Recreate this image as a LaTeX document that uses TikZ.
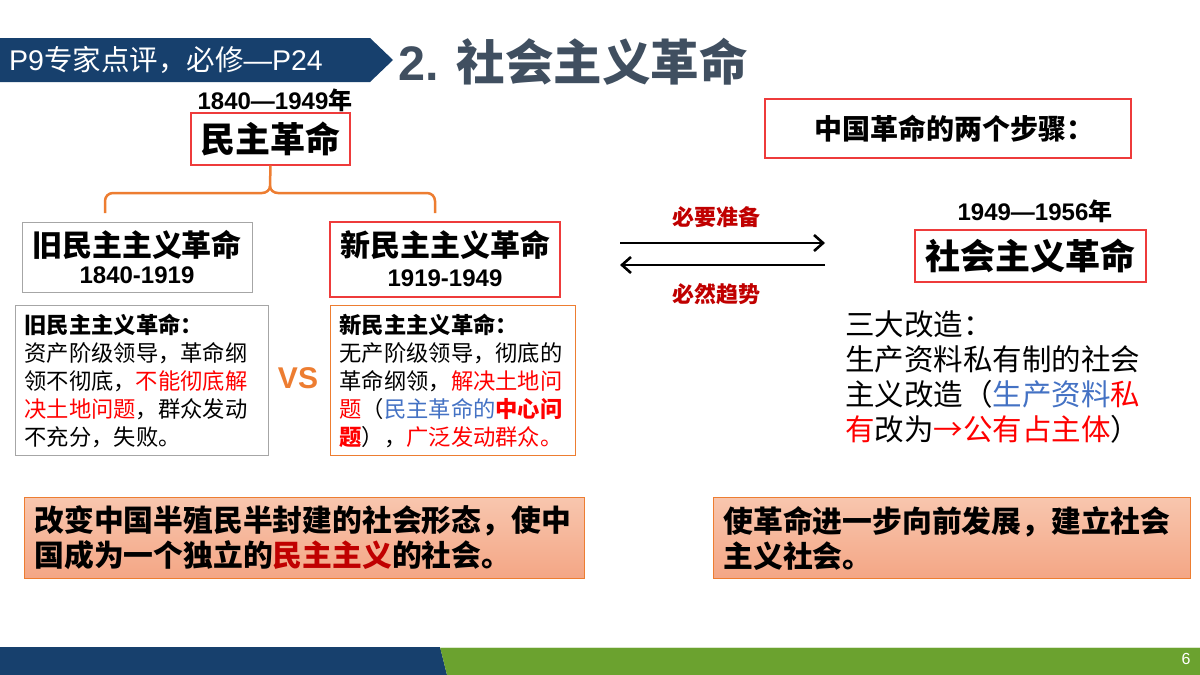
\documentclass[tikz,border=0pt]{standalone}
\usepackage{fontspec}
\setmainfont{Noto Sans CJK SC}
\newfontfamily\lat{Liberation Sans}
\usetikzlibrary{arrows.meta}
\definecolor{navy}{HTML}{17406D}
\definecolor{leaf}{HTML}{6BA22F}
\definecolor{slate}{HTML}{404F60}
\definecolor{boxred}{HTML}{EE3B3B}
\definecolor{boxgray}{HTML}{A6A6A6}
\definecolor{orng}{HTML}{ED7D31}
\definecolor{dred}{HTML}{C00000}
\definecolor{blu}{HTML}{4472C4}
\definecolor{salmtop}{HTML}{F8C6AE}
\definecolor{salmbot}{HTML}{F4A685}
\begin{document}
\begin{tikzpicture}[x=1pt,y=-1pt,
  plain/.style={inner sep=0pt},
  redbox/.style={draw=boxred, line width=1.2pt, inner sep=0pt},
  detail/.style={line width=1pt, inner xsep=9pt, inner ysep=0pt, align=left, anchor=north west,
     font=\fontsize{22.3}{28}\selectfont},
  result/.style={draw=orng, line width=1pt, top color=salmtop, bottom color=salmbot,
     inner xsep=10pt, inner ysep=0pt, align=left, anchor=north west, minimum height=81pt,
     font=\bfseries\fontsize{29.8}{35}\selectfont},
  brace/.style={draw=orng, line width=2.5pt},
  flow/.style={line width=2.6pt, -{Straight Barb[length=9pt,width=16pt]}},
  flowlab/.style={plain, text=dred, font=\bfseries\fontsize{22}{26}\selectfont}]
\useasboundingbox (0,0) rectangle (1200,675);
\fill[white] (0,0) rectangle (1200,675);

% header banner
\fill[navy] (0,38) -- (370,38) -- (393,60) -- (370,82) -- (0,82) -- cycle;
\node[plain, anchor=west, text=white, font=\fontsize{28.5}{32}\selectfont] (banner) at (9,60)
  {{\lat P9}专家点评，必修{\lat —P24}};
\node[plain, anchor=west, text=slate, font=\bfseries\fontsize{48.5}{54}\selectfont] (title) at (398,62)
  {{\lat\bfseries 2. }社会主义革命};

% democratic revolution
\node[plain, font=\bfseries\fontsize{24}{28}\selectfont] (years1) at (275,100) {{\lat\bfseries 1840—1949}年};
\node[redbox, minimum width=159pt, minimum height=52pt, font=\bfseries\fontsize{35}{40}\selectfont] (dem) at (270.5,139) {民主革命};

% brace
\coordinate (bl) at (105,213);
\coordinate (br) at (435,213);
\draw[brace] (dem.south) -- (270,186) to[out=-90,in=0] (262,193) -- (113,193) to[out=180,in=90] (105,201) -- (bl);
\draw[brace] (270,186) to[out=-90,in=180] (278,193) -- (427,193) to[out=0,in=90] (435,201) -- (br);

% old / new
\node[draw=boxgray, line width=1pt, inner sep=0pt, minimum width=230pt, minimum height=70pt] (oldr) at (137,257) {};
\node[plain, font=\bfseries\fontsize{30}{34}\selectfont] (oldt) at (137,245) {旧民主主义革命};
\node[plain, font=\lat\bfseries\fontsize{24}{28}\selectfont] (oldy) at (137,275) {1840-1919};
\node[redbox, minimum width=230pt, minimum height=75pt] (newr) at (445,259.5) {};
\node[plain, font=\bfseries\fontsize{30}{34}\selectfont] (newt) at (445,245) {新民主主义革命};
\node[plain, font=\lat\bfseries\fontsize{24}{28}\selectfont] (newy) at (445,278) {1919-1949};

% detail boxes
\node[detail, draw=boxgray, minimum width=253pt, minimum height=150pt, text width=235pt] (oldd) at (15,305)
  {\textbf{旧民主主义革命：}\\
   资产阶级领导，革命纲\\
   领不彻底，\textcolor{red}{不能彻底解}\\
   \textcolor{red}{决土地问题}，群众发动\\
   不充分，失败。};
\node[detail, draw=orng, minimum width=245pt, minimum height=150pt, text width=227pt] (newd) at (330,305)
  {\textbf{新民主主义革命：}\\
   无产阶级领导，彻底的\\
   革命纲领，\textcolor{red}{解决土地问}\\
   \textcolor{red}{题}（\textcolor{blu}{民主革命的}\textcolor{red}{\textbf{中心问}}\\
   \textcolor{red}{\textbf{题}}），\textcolor{red}{广泛发动群众。}};
\node[plain, text=orng, font=\lat\bfseries\fontsize{30}{34}\selectfont] (vs) at (298,378) {VS};

% arrows
\coordinate (p1) at (620,243);
\coordinate (p2) at (825,243);
\coordinate (q1) at (825,265);
\coordinate (q2) at (620,265);
\draw[flow] (p1) -- (p2);
\draw[flow] (q1) -- (q2);
\node[flowlab] (prep) at (716,217) {必要准备};
\node[flowlab] (trend) at (716,294) {必然趋势};

% socialist revolution
\node[redbox, minimum width=366pt, minimum height=59pt, font=\bfseries\fontsize{28}{32}\selectfont] (steps) at (948,128.5) {\hspace*{12pt}中国革命的两个步骤：};
\node[plain, font=\bfseries\fontsize{24}{28}\selectfont] (years2) at (1035,211) {{\lat\bfseries 1949—1956}年};
\node[redbox, minimum width=231pt, minimum height=52pt, font=\bfseries\fontsize{35}{40}\selectfont] (soc) at (1030.5,256) {社会主义革命};
\node[plain, anchor=west, align=left, text width=330pt, font=\fontsize{29.5}{35}\selectfont] (three) at (845,377)
  {三大改造：\\
   生产资料私有制的社会\\
   主义改造（\textcolor{blu}{生产资料}\textcolor{red}{私}\\
   \textcolor{red}{有}改为\textcolor{red}{→公有占主体}）};

% results
\node[result, minimum width=560pt, text width=540pt] (resL) at (24,497)
  {改变中国半殖民半封建的社会形态，使中\\
   国成为一个独立的\textcolor{dred}{民主主义}的社会。};
\node[result, minimum width=477pt, text width=457pt] (resR) at (713,497)
  {使革命进一步向前发展，建立社会\\
   主义社会。};

% footer
\fill[navy] (0,647) -- (440,647) -- (447,675) -- (0,675) -- cycle;
\fill[leaf] (440,647) -- (1200,647) -- (1200,675) -- (447,675) -- cycle;
\draw[white!75!leaf, line width=1pt] (440,647) -- (1200,647);
\node[plain, text=white, font=\lat\fontsize{16}{18}\selectfont] (pagenum) at (1186,659) {6};
\end{tikzpicture}
\end{document}
